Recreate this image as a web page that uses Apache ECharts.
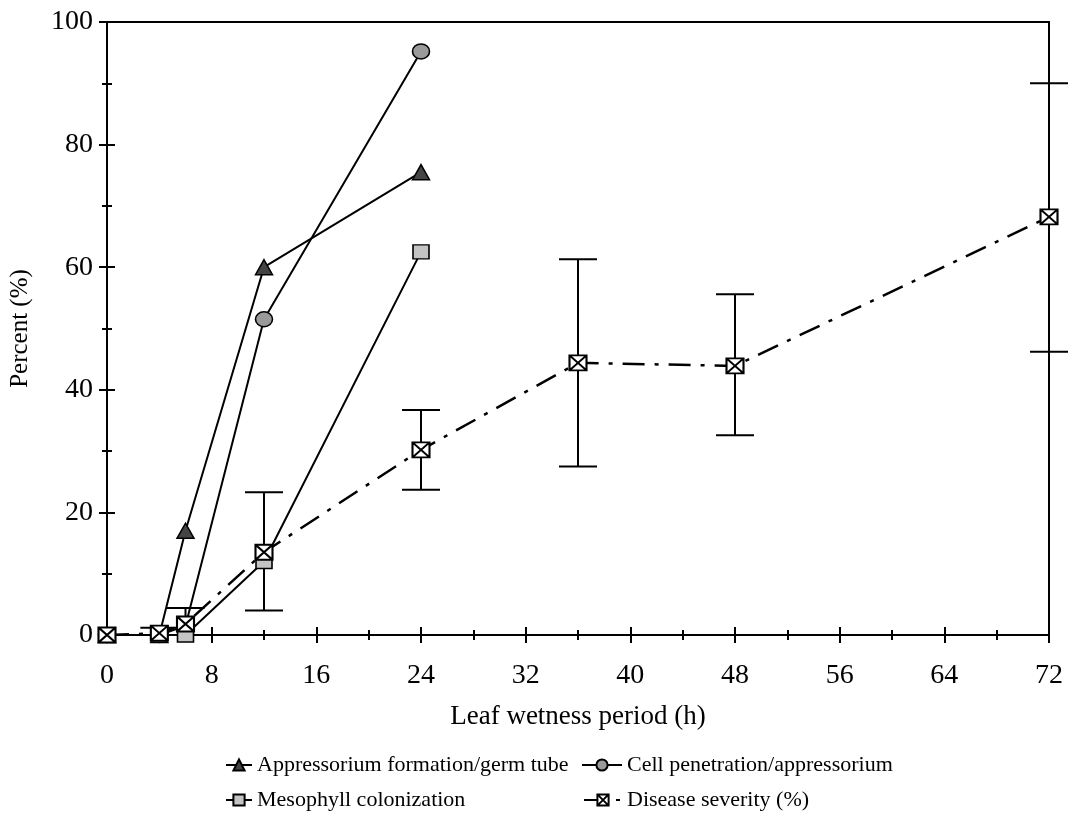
<!DOCTYPE html>
<html>
<head>
<meta charset="utf-8">
<script src="https://cdn.jsdelivr.net/npm/echarts@6/dist/echarts.min.js"></script>
<style>html,body{margin:0;padding:0;background:#fff;}#c{width:1069px;height:815px;}</style>
</head>
<body>
<div id="c"></div>
<script>
// ---- data ----
const hoursShort = [0, 4, 6, 12, 24];
const appressorium = [0, 0, 17, 60, 75.5];
const penetration = [0, 0, 1.5, 51.5, 95.2];
const mesophyll = [0, 0, 0, 12, 62.5];
const hoursAll = [0, 4, 6, 12, 24, 36, 48, 72];
const disease = [0, 0.3, 1.8, 13.5, 30.2, 44.4, 43.9, 68.2];
const diseaseLow = [null, null, null, 4, 23.7, 27.5, 32.6, 46.2];
const diseaseHigh = [null, 1.2, 4.4, 23.3, 36.7, 61.3, 55.6, 90];
const xTicks = [0, 8, 16, 24, 32, 40, 48, 56, 64, 72];
const yTicks = [0, 20, 40, 60, 80, 100];

const names = ['Appressorium formation/germ tube', 'Cell penetration/appressorium', 'Mesophyll colonization', 'Disease severity (%)'];
const FONT = '"Liberation Serif", "Times New Roman", serif';

function pairs(xs, ys) { return xs.map((x, i) => [x, ys[i]]); }
const errData = hoursAll.map((h, i) => [h, diseaseLow[i], diseaseHigh[i]]).filter(d => d[2] !== null);

const chart = echarts.init(document.getElementById('c'));
const baseX = {
  type: 'value', min: xTicks[0], max: xTicks[xTicks.length - 1], interval: 8, position: 'bottom',
  splitLine: { show: false }
};
const baseY = {
  type: 'value', min: yTicks[0], max: yTicks[yTicks.length - 1], interval: 20, position: 'left',
  splitLine: { show: false }
};
const legendCommon = {
  itemHeight: 14, itemGap: 0,
  textStyle: { fontFamily: FONT, fontSize: 22, color: '#000' },
  selectedMode: false
};
chart.setOption({
  animation: false,
  backgroundColor: '#fff',
  grid: { left: 107, right: 20, top: 22, bottom: 180, show: true, borderColor: '#000', borderWidth: 2, backgroundColor: 'transparent' },
  xAxis: [
    Object.assign({}, baseX, {
      name: 'Leaf wetness period (h)', nameLocation: 'middle', nameGap: 68,
      nameTextStyle: { fontFamily: FONT, fontSize: 27, color: '#000' },
      axisLine: { show: true, onZero: false, lineStyle: { color: '#000', width: 2 } },
      axisTick: { show: true, inside: false, length: 8, lineStyle: { color: '#000', width: 2 } },
      minorTick: { show: true, splitNumber: 2, length: 5, lineStyle: { color: '#000', width: 2 } },
      axisLabel: { margin: 27, fontFamily: FONT, fontSize: 28, color: '#000' }
    }),
    Object.assign({}, baseX, {
      axisLine: { show: false, onZero: false },
      axisTick: { show: true, inside: true, length: 8, lineStyle: { color: '#000', width: 2 } },
      minorTick: { show: true, splitNumber: 2, length: 5, lineStyle: { color: '#000', width: 2 } },
      axisLabel: { show: false }
    })
  ],
  yAxis: [
    Object.assign({}, baseY, {
      name: 'Percent (%)', nameLocation: 'middle', nameGap: 74,
      nameTextStyle: { fontFamily: FONT, fontSize: 25, color: '#000' },
      axisLine: { show: true, onZero: false, lineStyle: { color: '#000', width: 2 } },
      axisTick: { show: true, inside: false, length: 8, lineStyle: { color: '#000', width: 2 } },
      minorTick: { show: true, splitNumber: 2, length: 5, lineStyle: { color: '#000', width: 2 } },
      axisLabel: { margin: 14, fontFamily: FONT, fontSize: 28, color: '#000' }
    }),
    Object.assign({}, baseY, {
      axisLine: { show: false, onZero: false },
      axisTick: { show: true, inside: true, length: 8, lineStyle: { color: '#000', width: 2 } },
      minorTick: { show: true, splitNumber: 2, length: 5, lineStyle: { color: '#000', width: 2 } },
      axisLabel: { show: false }
    })
  ],
  legend: [
    Object.assign({ data: [names[0]], left: 220, top: 749, itemWidth: 26 }, legendCommon),
    Object.assign({ data: [names[1]], left: 576, top: 749, itemWidth: 40 }, legendCommon),
    Object.assign({ data: [names[2]], left: 220, top: 784, itemWidth: 26 }, legendCommon),
    Object.assign({ data: [names[3]], left: 578, top: 784, itemWidth: 38 }, legendCommon)
  ],
  series: [
    {
      type: 'custom', name: 'err', xAxisIndex: 0, yAxisIndex: 0, z: 2, clip: false,
      data: errData, encode: { x: 0, y: [1, 2] },
      renderItem: function (params, api) {
        const x = api.value(0), lo = api.value(1), hi = api.value(2);
        const hasLo = !isNaN(lo) && lo !== null && lo > 0;
        const pH = api.coord([x, hi]);
        const pL = api.coord([x, hasLo ? lo : 0]);
        const hw = 19;
        const st = { stroke: '#000', lineWidth: 2 };
        const ch = [
          { type: 'line', shape: { x1: pH[0], y1: pH[1], x2: pL[0], y2: pL[1] }, style: st },
          { type: 'line', shape: { x1: pH[0] - hw, y1: pH[1], x2: pH[0] + hw, y2: pH[1] }, style: st }
        ];
        if (hasLo) ch.push({ type: 'line', shape: { x1: pL[0] - hw, y1: pL[1], x2: pL[0] + hw, y2: pL[1] }, style: st });
        return { type: 'group', children: ch };
      }
    },
    {
      type: 'line', name: names[0], data: pairs(hoursShort, appressorium), clip: false, z: 3,
      symbol: 'triangle', symbolSize: [17, 15],
      lineStyle: { color: '#000', width: 2 },
      itemStyle: { color: '#444', borderColor: '#000', borderWidth: 1.5 }
    },
    {
      type: 'line', name: names[1], data: pairs(hoursShort, penetration), clip: false, z: 3,
      symbol: 'circle', symbolSize: [17, 15],
      lineStyle: { color: '#000', width: 2 },
      itemStyle: { color: '#9a9a9a', borderColor: '#000', borderWidth: 1.5 }
    },
    {
      type: 'line', name: names[2], data: pairs(hoursShort, mesophyll), clip: false, z: 3,
      symbol: 'rect', symbolSize: [16, 14],
      lineStyle: { color: '#000', width: 2 },
      itemStyle: { color: '#c4c4c4', borderColor: '#000', borderWidth: 1.5 }
    },
    {
      type: 'line', name: names[3], data: pairs(hoursAll, disease), clip: false, z: 4,
      symbol: 'path://M0,0 L10,0 L10,9 L0,9 Z M0,0 L10,9 M10,0 L0,9', symbolSize: [17, 15], symbolKeepAspect: false,
      lineStyle: { color: '#000', width: 2.5, type: [22, 10, 4, 10] },
      itemStyle: { color: '#fff', borderColor: '#000', borderWidth: 2 }
    }
  ]
});
</script>
</body>
</html>
